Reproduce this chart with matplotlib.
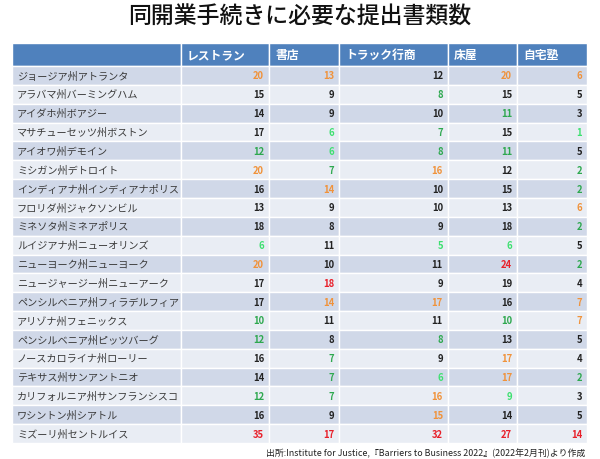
import matplotlib
matplotlib.use("Agg")
import matplotlib.pyplot as plt
from matplotlib.patches import Rectangle

plt.rcParams["font.family"] = ["Noto Sans CJK JP", "DejaVu Sans"]

title = "同開業手続きに必要な提出書類数"
source = "出所:Institute for Justice,『Barriers to Business 2022』(2022年2月刊)より作成"

columns = ["レストラン", "書店", "トラック行商", "床屋", "自宅塾"]
cities = [
    "ジョージア州アトランタ", "アラバマ州バーミングハム", "アイダホ州ボアジー",
    "マサチューセッツ州ボストン", "アイオワ州デモイン", "ミシガン州デトロイト",
    "インディアナ州インディアナポリス", "フロリダ州ジャクソンビル", "ミネソタ州ミネアポリス",
    "ルイジアナ州ニューオリンズ", "ニューヨーク州ニューヨーク", "ニュージャージー州ニューアーク",
    "ペンシルベニア州フィラデルフィア", "アリゾナ州フェニックス", "ペンシルベニア州ピッツバーグ",
    "ノースカロライナ州ローリー", "テキサス州サンアントニオ", "カリフォルニア州サンフランシスコ",
    "ワシントン州シアトル", "ミズーリ州セントルイス",
]

restaurant = [20, 15, 14, 17, 12, 20, 16, 13, 18, 6, 20, 17, 17, 10, 12, 16, 14, 12, 16, 35]
bookstore = [13, 9, 9, 6, 6, 7, 14, 9, 8, 11, 10, 18, 14, 11, 8, 7, 7, 7, 9, 17]
truck = [12, 8, 10, 7, 8, 16, 10, 10, 9, 5, 11, 9, 17, 11, 8, 9, 6, 16, 15, 32]
barber = [20, 15, 11, 15, 11, 12, 15, 13, 18, 6, 24, 19, 16, 10, 13, 17, 17, 9, 14, 27]
home_tutor = [6, 5, 3, 1, 5, 2, 2, 6, 2, 5, 2, 4, 7, 7, 5, 4, 2, 3, 5, 14]

# highlight codes as in the source table: r=worst, o=high, g=low, l=lowest, k=plain
restaurant_hl = "okkkgokkklokkggkkgkr"
bookstore_hl = "okkllgokkkkrokkgggkr"
truck_hl = "kgkggokkklkkokgkloor"
barber_hl = "okgkgkkkklrkkgkoolkr"
home_hl = "okklkggogkgkookkgkkr"

values = [restaurant, bookstore, truck, barber, home_tutor]
highlights = [restaurant_hl, bookstore_hl, truck_hl, barber_hl, home_hl]

hl_colors = {"r": "#E8202A", "o": "#F0923A", "g": "#2EA84F",
             "l": "#3EE070", "k": "#222222"}

fig = plt.figure(figsize=(6.0, 4.6), dpi=100)
ax = fig.add_axes([0, 0, 1, 1])
ax.set_xlim(0, 600)
ax.set_ylim(460, 0)
ax.axis("off")

col_edges = [12, 181, 269, 339, 448, 517, 587]
header_top, header_bot, table_bot = 44, 67, 444
row_h = (table_bot - header_bot) / len(cities)

ax.text(300, 17, title, ha="center", va="center", fontsize=16.5,
        fontweight="medium", color="#111111")

# header
for j in range(len(col_edges) - 1):
    ax.add_patch(Rectangle((col_edges[j], header_top), col_edges[j + 1] - col_edges[j],
                           header_bot - header_top, facecolor="#4F81BD",
                           edgecolor="white", linewidth=1.0))
for j, name in enumerate(columns):
    ax.text(col_edges[j + 1] + 6, (header_top + header_bot) / 2, name,
            ha="left", va="center", fontsize=8.5, fontweight="bold", color="white")

# body
for i, city in enumerate(cities):
    y0 = header_bot + i * row_h
    fill = "#D0D8E8" if i % 2 == 0 else "#E9EDF4"
    for j in range(len(col_edges) - 1):
        ax.add_patch(Rectangle((col_edges[j], y0), col_edges[j + 1] - col_edges[j], row_h,
                               facecolor=fill, edgecolor="white", linewidth=1.0))
    ax.text(col_edges[0] + 5, y0 + row_h / 2, city, ha="left", va="center",
            fontsize=7.3, color="#3A3A3A")
    for j, (col, hl) in enumerate(zip(values, highlights)):
        ax.text(col_edges[j + 2] - 5, y0 + row_h / 2, str(col[i]), ha="right",
                va="center", fontsize=6.8, fontweight="bold", color=hl_colors[hl[i]])

ax.text(585, 453, source, ha="right", va="center", fontsize=6.4, color="#222222")

fig.savefig("out.png", dpi=100)
